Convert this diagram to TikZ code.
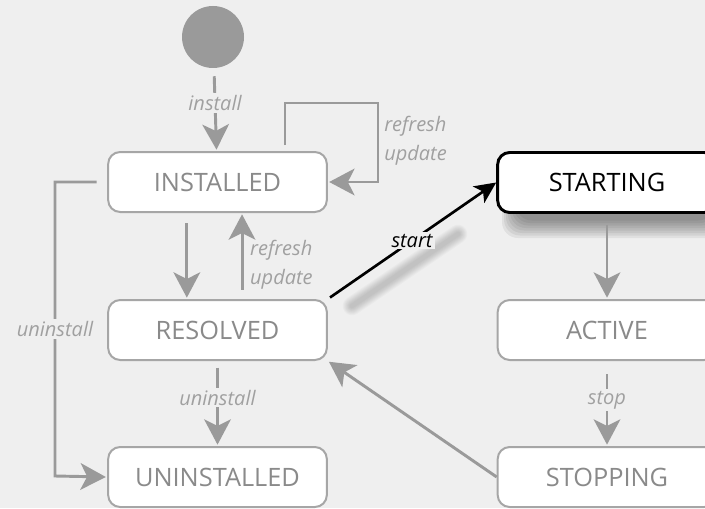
\documentclass[tikz,border=0pt]{standalone}
\usepackage{fontspec}
\setmainfont{Open Sans}
\usetikzlibrary{arrows.meta}
\definecolor{ChartPaper}{HTML}{EFEFEF}
\definecolor{FlowGray}{HTML}{9A9A9A}
\definecolor{EdgeGray}{HTML}{A6A6A6}
\definecolor{StateText}{HTML}{8A8A8A}
\definecolor{NoteGray}{HTML}{A0A0A0}
\tikzset{
  every node/.style={text=StateText},
  state/.style={draw=EdgeGray, line width=1.5pt, fill=white, rounded corners=9pt,
    minimum width=164pt, minimum height=45pt, inner sep=0pt,
    font=\fontsize{19}{22}\selectfont},
  current/.style={state, draw=black, line width=2.2pt, text=black},
  haze/.style={black, opacity=0.06},
  flow/.style={-{Stealth[length=19pt,width=20pt,inset=5pt]}, draw=FlowGray, line width=2.2pt, shorten >=1pt},
  fired/.style={-{Stealth[length=16pt,width=15pt,inset=4pt]}, draw=black, line width=2pt},
  trigger/.style={fill=ChartPaper, inner sep=1.5pt, text=NoteGray, font=\itshape\fontsize{15}{17}\selectfont},
  memo/.style={inner sep=0pt, align=left, text=NoteGray, font=\itshape\fontsize{15}{21.5}\selectfont},
}
\begin{document}
\begin{tikzpicture}[x=0.75pt,y=0.75pt]
  % Canvas
  \path[use as bounding box, fill=ChartPaper] (0,0) rectangle (705,508);
  % Soft shadow of the current state and of the start transition
  \foreach \g in {0,...,7}{
    \fill[haze, rounded corners=12pt] ({502+2*\g},{270+2.5*\g}) rectangle ({728-2*\g},{345-2*\g});
    \draw[haze, opacity=0.022, line width={(14-1.5*\g)*1pt}, line cap=round] (352,202) -- (458,274);
  }
  % Initial pseudo state
  \node[circle, fill=FlowGray, minimum size=46.5pt, inner sep=0pt] (init) at (213,471) {};
  % Bundle states
  \node[state] (installed) at (217.5,326) {INSTALLED};
  \node[state] (resolved) at (217.5,178) {RESOLVED};
  \node[state] (uninstalled) at (217.5,31) {UNINSTALLED};
  \node[current] (starting) at (607,325.5) {STARTING};
  \node[state] (active) at (607,178) {ACTIVE};
  \node[state] (stopping) at (607,31) {STOPPING};
  % Corners of the bent transitions
  \coordinate (loopcorner) at (378,405);
  \coordinate (leftcorner) at (55,32);
  % Transitions
  \draw[flow, shorten <=6pt] (init) -- node[trigger, pos=0.42]{install} (installed);
  \draw[flow, shorten <=4.5pt] ([xshift=50.6pt]installed.north) |- (loopcorner) |- (installed.east);
  \node[memo, anchor=west] (loopnote) at (384,367) {refresh\\update};
  \draw[flow, shorten <=8pt] (installed.west) -| node[trigger, pos=0.75]{uninstall} (leftcorner) -- (uninstalled.west);
  \draw[flow, shorten <=7.5pt] ([xshift=-23pt]installed.south) -- ([xshift=-23pt]resolved.north);
  \draw[flow, shorten <=7pt] ([xshift=18.4pt]resolved.north) -- node[memo, anchor=west, pos=0.4, xshift=5pt]{refresh\\update} ([xshift=18.4pt]installed.south);
  \draw[flow, shorten <=5pt] (resolved) -- node[trigger, pos=0.43]{uninstall} (uninstalled);
  \draw[fired, shorten <=2pt] (resolved.north east) -- node[trigger, text=black]{start} (starting.west);
  \draw[flow, shorten <=8pt] (starting) -- (active);
  \draw[flow, shorten <=10pt] (active) -- node[trigger, pos=0.46]{stop} (stopping);
  \draw[flow] (stopping.west) -- (resolved.south east);
\end{tikzpicture}
\end{document}
